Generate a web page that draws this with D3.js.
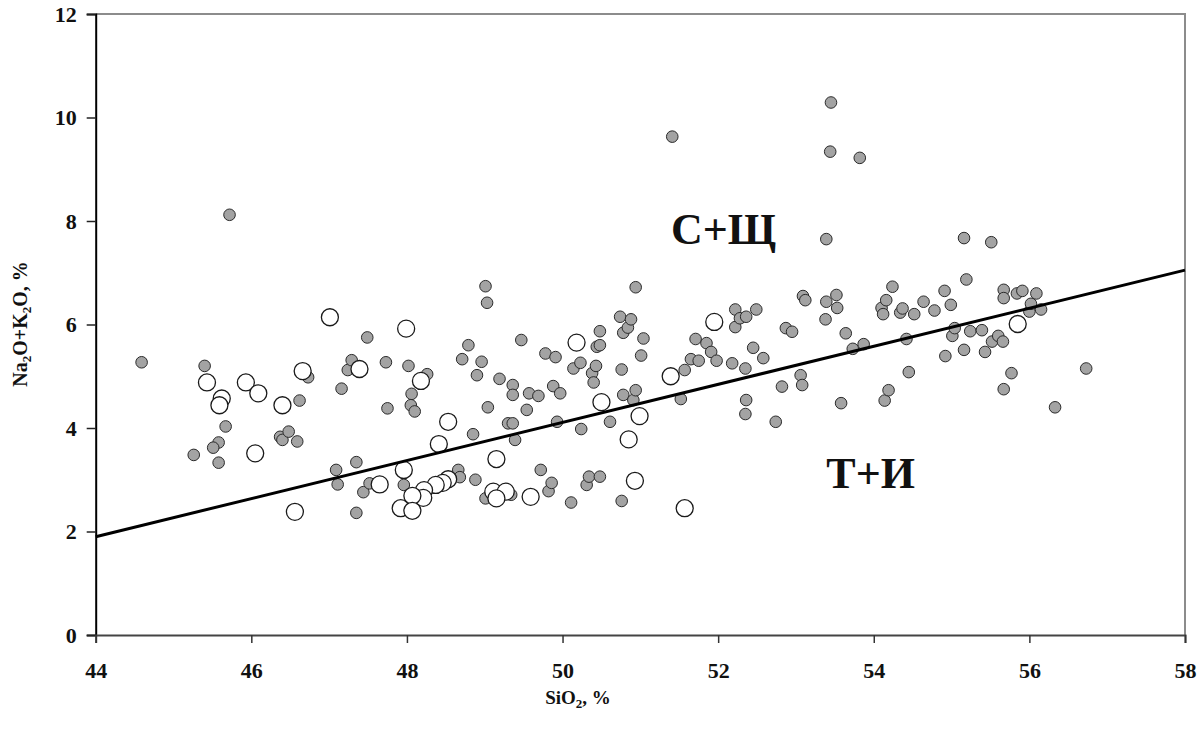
<!DOCTYPE html>
<html>
<head>
<meta charset="utf-8">
<script src="https://cdn.jsdelivr.net/npm/d3@7"></script>
<style>
  html, body { margin: 0; padding: 0; background: #fff; }
  svg { display: block; }
  text { font-family: "Liberation Serif", "Times New Roman", serif; font-weight: bold; fill: #111; }
</style>
</head>
<body>
<svg id="chart" width="1204" height="731"></svg>
<script>
// ---- Data ----
const xTicks = [44, 46, 48, 50, 52, 54, 56, 58];
const yTicks = [0, 2, 4, 6, 8, 10, 12];

// filled grey points: [SiO2, Na2O+K2O]
const greySiO2 = [
  44.59,45.40,45.72,45.67,45.58,45.51,45.26,45.58,46.37,46.40,46.48,46.59,46.62,46.73,47.16,47.24,47.29,47.49,47.73,47.09,
  47.11,47.35,47.35,47.44,47.52,47.75,48.02,48.26,48.06,48.05,48.10,47.96,48.66,48.68,48.71,48.79,48.85,48.88,48.90,48.96,
  49.01,49.03,49.04,49.01,49.19,49.30,49.36,49.36,49.36,49.39,49.34,49.47,49.54,49.57,49.69,49.72,49.78,49.82,49.86,49.88,
  49.91,49.93,49.97,50.11,50.14,50.23,50.24,50.31,50.34,50.38,50.40,50.43,50.44,50.48,50.48,50.48,50.61,50.74,50.76,50.76,
  50.78,50.78,50.84,50.88,50.91,50.94,50.94,51.01,51.04,51.41,51.52,51.57,51.65,51.71,51.75,51.85,51.91,51.98,52.18,52.22,
  52.22,52.28,52.35,52.36,52.36,52.35,52.45,52.49,52.58,52.74,52.82,52.87,52.95,53.06,53.08,53.09,53.12,53.38,53.39,53.39,
  53.44,53.45,53.52,53.53,53.58,53.64,53.73,53.82,53.87,54.10,54.12,54.14,54.16,54.19,54.24,54.34,54.37,54.42,54.45,54.52,
  54.64,54.78,54.91,54.92,54.99,55.01,55.04,55.16,55.16,55.19,55.24,55.39,55.43,55.51,55.52,55.60,55.66,55.67,55.67,55.67,
  55.77,55.84,55.91,56.00,56.02,56.09,56.15,56.33,56.73
];
const greyAlk = [
  5.27,5.20,8.12,4.03,3.72,3.62,3.48,3.33,3.83,3.77,3.93,3.74,4.53,4.98,4.76,5.12,5.31,5.75,5.27,3.19,
  2.91,3.34,2.36,2.76,2.93,4.38,5.20,5.04,4.66,4.44,4.32,2.90,3.19,3.05,5.33,5.60,3.88,3.00,5.02,5.28,
  6.74,6.42,4.40,2.64,4.95,4.09,4.09,4.83,4.64,3.77,2.71,5.70,4.35,4.67,4.62,3.19,5.44,2.78,2.94,4.81,
  5.37,4.12,4.67,2.56,5.15,5.26,3.98,2.90,3.06,5.06,4.88,5.20,5.57,5.60,5.87,3.06,4.12,6.15,5.13,2.59,
  5.84,4.64,5.94,6.10,4.54,6.72,4.73,5.40,5.73,9.63,4.56,5.12,5.33,5.72,5.30,5.64,5.47,5.30,5.25,6.29,
  5.95,6.12,5.15,6.15,4.54,4.27,5.55,6.29,5.35,4.12,4.80,5.93,5.86,5.02,4.83,6.55,6.47,6.10,6.44,7.65,
  9.34,10.29,6.57,6.32,4.48,5.83,5.53,9.22,5.62,6.32,6.20,4.53,6.47,4.73,6.73,6.23,6.31,5.72,5.08,6.20,
  6.44,6.27,6.65,5.39,6.38,5.78,5.93,7.67,5.51,6.87,5.87,5.89,5.47,7.59,5.67,5.78,5.67,6.67,6.51,4.75,
  5.06,6.60,6.65,6.25,6.40,6.60,6.29,4.40,5.15
];

// open (white) points
const openSiO2 = [
  47.01,45.43,45.93,46.09,46.66,47.39,45.62,45.59,46.40,46.05,46.56,47.65,47.99,48.18,48.53,48.41,47.96,48.53,48.46,48.37,
  48.22,48.21,48.07,47.92,48.07,49.15,49.11,49.27,49.15,49.59,50.18,50.50,50.99,50.85,50.93,51.39,51.57,51.95,55.85
];
const openAlk = [
  6.14,4.88,4.88,4.67,5.10,5.14,4.57,4.44,4.44,3.51,2.38,2.91,5.92,4.91,4.12,3.69,3.19,3.01,2.94,2.90,
  2.80,2.65,2.69,2.45,2.40,3.40,2.77,2.77,2.64,2.67,5.65,4.50,4.23,3.78,2.98,5.00,2.45,6.05,6.01
];

// dividing line
const lineSiO2 = [44, 58];
const lineAlk = [1.90, 7.05];

// region labels
const regionLabels = ["С+Щ", "Т+И"];
const regionSiO2 = [52.07, 53.96];
const regionAlk = [7.55, 2.85];

// ---- Drawing ----
const svg = d3.select("#chart");
const L = 95.7, R = 1185, T = 14, B = 635;
const x = d3.scaleLinear().domain([44, 58]).range([L, R]);
const y = d3.scaleLinear().domain([0, 12]).range([B, T]);

// top and right frame (grey)
svg.append("path")
  .attr("d", `M${L},${T}H${R}V${B}`)
  .attr("fill", "none").attr("stroke", "#8c8c8c").attr("stroke-width", 2);

// y axis
const yAxis = svg.append("g").attr("transform", `translate(${L},0)`)
  .call(d3.axisLeft(y).tickValues(yTicks).tickSize(9).tickPadding(10).tickFormat(d3.format("d")));
yAxis.select(".domain").attr("stroke", "#000").attr("stroke-width", 2);
yAxis.selectAll(".tick line").attr("stroke", "#222").attr("stroke-width", 1.5);
yAxis.selectAll(".tick text").style("font-size", "22px").attr("fill", "#111")
  .style("font-family", "'Liberation Serif', serif").style("font-weight", "bold");

// x axis
const xAxis = svg.append("g").attr("transform", `translate(0,${B})`)
  .call(d3.axisBottom(x).tickValues(xTicks).tickSize(8).tickPadding(19).tickFormat(d3.format("d")));
xAxis.select(".domain").attr("stroke", "#444").attr("stroke-width", 2);
xAxis.selectAll(".tick line").attr("stroke", "#333").attr("stroke-width", 1.5);
xAxis.selectAll(".tick text").style("font-size", "22px").attr("fill", "#111")
  .style("font-family", "'Liberation Serif', serif").style("font-weight", "bold");

// grey points
const grey = greySiO2.map((v, i) => [v, greyAlk[i]]);
svg.append("g").selectAll("circle").data(grey).join("circle")
  .attr("cx", d => x(d[0])).attr("cy", d => y(d[1])).attr("r", 5.8)
  .attr("fill", "#a3a3a3").attr("stroke", "#2a2a2a").attr("stroke-width", 1);

// open points
const open = openSiO2.map((v, i) => [v, openAlk[i]]);
svg.append("g").selectAll("circle").data(open).join("circle")
  .attr("cx", d => x(d[0])).attr("cy", d => y(d[1])).attr("r", 8.5)
  .attr("fill", "#fff").attr("stroke", "#1a1a1a").attr("stroke-width", 1.3);

// dividing line
svg.append("line")
  .attr("x1", x(lineSiO2[0])).attr("y1", y(lineAlk[0]))
  .attr("x2", x(lineSiO2[1])).attr("y2", y(lineAlk[1]))
  .attr("stroke", "#000").attr("stroke-width", 3);

// region labels
svg.append("g").selectAll("text").data(regionLabels).join("text")
  .attr("x", (d, i) => x(regionSiO2[i])).attr("y", (d, i) => y(regionAlk[i]))
  .attr("text-anchor", "middle")
  .style("font-size", "44px").attr("fill", "#111")
  .text(d => d);

// axis titles
const xt = svg.append("text").attr("x", 578).attr("y", 704).attr("text-anchor", "middle")
  .style("font-size", "19px");
xt.append("tspan").text("SiO");
xt.append("tspan").attr("dy", 4).style("font-size", "13px").text("2");
xt.append("tspan").attr("dy", -4).text(", %");

const yt = svg.append("text").attr("transform", "translate(27,324) rotate(-90)")
  .attr("text-anchor", "middle").style("font-size", "20px");
yt.append("tspan").text("Na");
yt.append("tspan").attr("dy", 4).style("font-size", "13px").text("2");
yt.append("tspan").attr("dy", -4).text("O+K");
yt.append("tspan").attr("dy", 4).style("font-size", "13px").text("2");
yt.append("tspan").attr("dy", -4).text("O, %");
</script>
</body>
</html>
